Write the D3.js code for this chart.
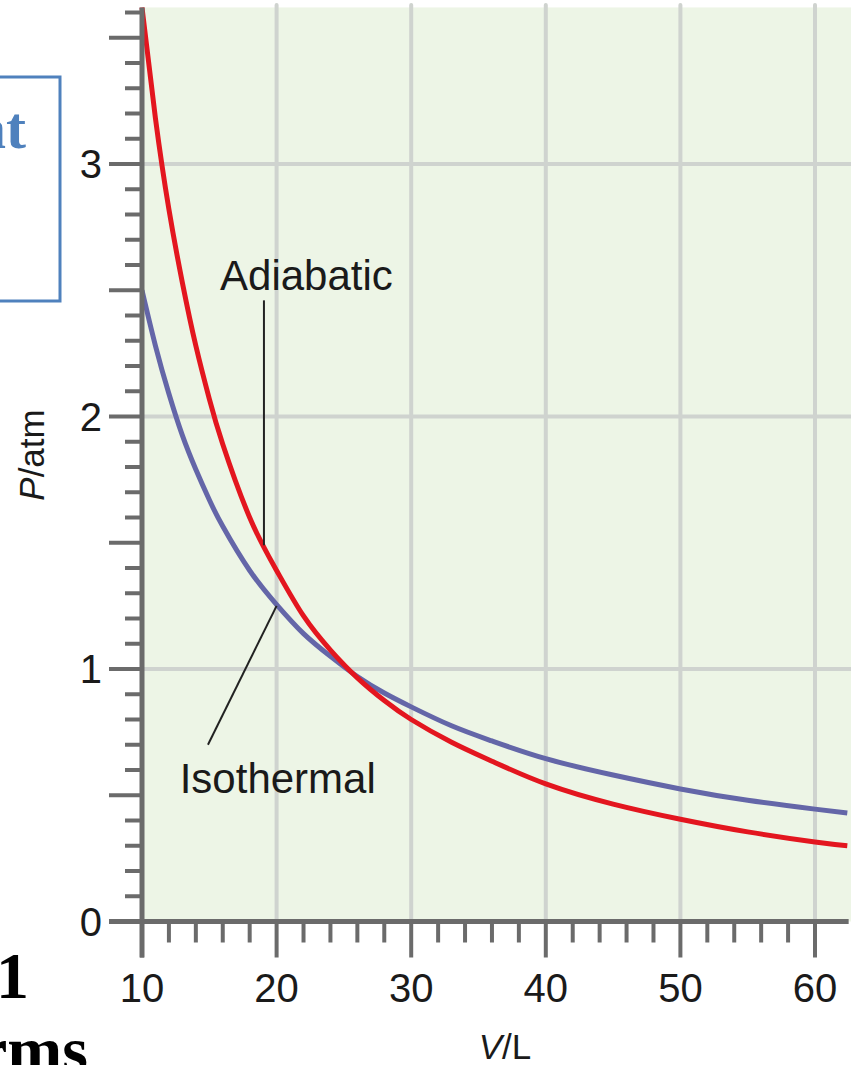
<!DOCTYPE html>
<html>
<head>
<meta charset="utf-8">
<script src="https://cdn.jsdelivr.net/npm/d3@7"></script>
<style>
  body { margin: 0; background: #fff; }
  svg { display: block; }
  text { font-family: "Liberation Sans", Arial, sans-serif; fill: #1a1a1a; }
  .slide { font-family: "Liberation Serif", "Times New Roman", serif; font-weight: bold; }
</style>
</head>
<body>
<svg id="chart"></svg>
<script>
// volume (L) sample points
const volumes = [10, 11, 12, 13, 14, 15, 16, 18, 20, 22, 24, 26, 28, 30, 33, 36, 40, 45, 50, 55, 60, 62.4];
// pressure (atm) for each curve
const isothermal = [2.50, 2.28, 2.09, 1.925, 1.79, 1.67, 1.565, 1.39, 1.255, 1.14, 1.05, 0.97, 0.905, 0.85, 0.775, 0.715, 0.645, 0.58, 0.525, 0.48, 0.445, 0.43];
const adiabatic  = [3.62, 3.18, 2.82, 2.53, 2.28, 2.07, 1.89, 1.60, 1.39, 1.21, 1.075, 0.965, 0.875, 0.80, 0.71, 0.635, 0.545, 0.465, 0.405, 0.355, 0.315, 0.30];

const xMajor = [10, 20, 30, 40, 50, 60];
const xMinor = d3.range(10, 62, 2);
const yLabels = [0, 1, 2, 3];
const yMinor = d3.range(0, 3.61, 0.1).map(d => +d.toFixed(1));

const width = 851;
const height = 1065;

const svg = d3.select("#chart")
    .attr("width", width)
    .attr("height", height);

const x = d3.scaleLinear().domain([10, 60]).range([142, 815]);
const y = d3.scaleLinear().domain([0, 3]).range([921.5, 164]);

const axisColor = "#6b6b6b";
const gridColor = "#cfd3cf";

// plot background
svg.append("rect")
    .attr("x", x(10))
    .attr("y", y(3.62))
    .attr("width", width - x(10))
    .attr("height", y(0) - y(3.62))
    .attr("fill", "#edf5e6");

// grid
svg.append("g").selectAll("line")
    .data(xMajor.slice(1))
    .enter().append("line")
    .attr("x1", d => x(d)).attr("x2", d => x(d))
    .attr("y1", y(3.63)).attr("y2", y(0))
    .attr("stroke", gridColor).attr("stroke-width", 4).attr("stroke-linecap", "round");

svg.append("g").selectAll("line")
    .data(yLabels.slice(1))
    .enter().append("line")
    .attr("x1", x(10)).attr("x2", width)
    .attr("y1", d => y(d)).attr("y2", d => y(d))
    .attr("stroke", gridColor).attr("stroke-width", 4);

// curves
const line = d3.line()
    .x((d, i) => x(volumes[i]))
    .y(d => y(d))
    .curve(d3.curveNatural);

svg.append("path")
    .datum(isothermal)
    .attr("d", line)
    .attr("fill", "none")
    .attr("stroke", "#6466a8")
    .attr("stroke-width", 5);

svg.append("path")
    .datum(adiabatic)
    .attr("d", line)
    .attr("fill", "none")
    .attr("stroke", "#e3161f")
    .attr("stroke-width", 5);

// y axis ticks (long every 0.5)
svg.append("g").selectAll("line")
    .data(yMinor)
    .enter().append("line")
    .attr("x1", d => (Math.round(d * 10) % 5 === 0) ? x(10) - 33 : x(10) - 17)
    .attr("x2", x(10))
    .attr("y1", d => y(d)).attr("y2", d => y(d))
    .attr("stroke", axisColor).attr("stroke-width", 4);

// x axis ticks (long every 10)
svg.append("g").selectAll("line")
    .data(xMinor)
    .enter().append("line")
    .attr("x1", d => x(d)).attr("x2", d => x(d))
    .attr("y1", y(0))
    .attr("y2", d => (d % 10 === 0) ? y(0) + 36 : y(0) + 21)
    .attr("stroke", axisColor).attr("stroke-width", 4);

// axis lines
svg.append("line")
    .attr("x1", x(10)).attr("x2", x(10))
    .attr("y1", y(3.62)).attr("y2", y(0) + 36)
    .attr("stroke", axisColor).attr("stroke-width", 5);

svg.append("line")
    .attr("x1", x(10) - 33).attr("x2", x(62.5))
    .attr("y1", y(0)).attr("y2", y(0))
    .attr("stroke", axisColor).attr("stroke-width", 5);

// tick labels
svg.append("g").selectAll("text")
    .data(xMajor)
    .enter().append("text")
    .attr("x", d => x(d))
    .attr("y", 1002)
    .attr("text-anchor", "middle")
    .attr("font-size", 40)
    .text(d => d);

svg.append("g").selectAll("text")
    .data(yLabels)
    .enter().append("text")
    .attr("x", 102)
    .attr("y", d => y(d) + 14)
    .attr("text-anchor", "end")
    .attr("font-size", 40)
    .text(d => d);

// axis titles
const xt = svg.append("text")
    .attr("x", 505).attr("y", 1059)
    .attr("text-anchor", "middle")
    .attr("font-size", 35);
xt.append("tspan").attr("font-style", "italic").text("V");
xt.append("tspan").text("/L");

const yt = svg.append("text")
    .attr("transform", "translate(44,455) rotate(-90)")
    .attr("text-anchor", "middle")
    .attr("font-size", 35);
yt.append("tspan").attr("font-style", "italic").text("P");
yt.append("tspan").text("/atm");

// curve labels with leader lines (data coordinates)
svg.append("text")
    .attr("x", x(15.8)).attr("y", y(2.5))
    .attr("font-size", 42)
    .text("Adiabatic");
svg.append("line")
    .attr("x1", x(19.06)).attr("x2", x(19.06))
    .attr("y1", y(2.46)).attr("y2", y(1.49))
    .attr("stroke", "#222").attr("stroke-width", 2);

svg.append("text")
    .attr("x", x(12.8)).attr("y", y(0.51))
    .attr("font-size", 42)
    .text("Isothermal");
svg.append("line")
    .attr("x1", x(20.0)).attr("x2", x(14.9))
    .attr("y1", y(1.25)).attr("y2", y(0.70))
    .attr("stroke", "#222").attr("stroke-width", 2);

// fragments of the surrounding slide
svg.append("rect")
    .attr("x", -20).attr("y", 77)
    .attr("width", 80).attr("height", 224)
    .attr("fill", "none")
    .attr("stroke", "#4f81bd").attr("stroke-width", 3);

svg.append("text")
    .attr("class", "slide")
    .attr("x", -24).attr("y", 148)
    .attr("font-size", 60)
    .style("fill", "#4f81bd")
    .text("at");

svg.append("text")
    .attr("class", "slide")
    .attr("x", -4).attr("y", 998)
    .attr("font-size", 66)
    .style("fill", "#000")
    .text("1");

svg.append("text")
    .attr("class", "slide")
    .attr("x", -22).attr("y", 1072)
    .attr("font-size", 66)
    .style("fill", "#000")
    .text("rms");
</script>
</body>
</html>
